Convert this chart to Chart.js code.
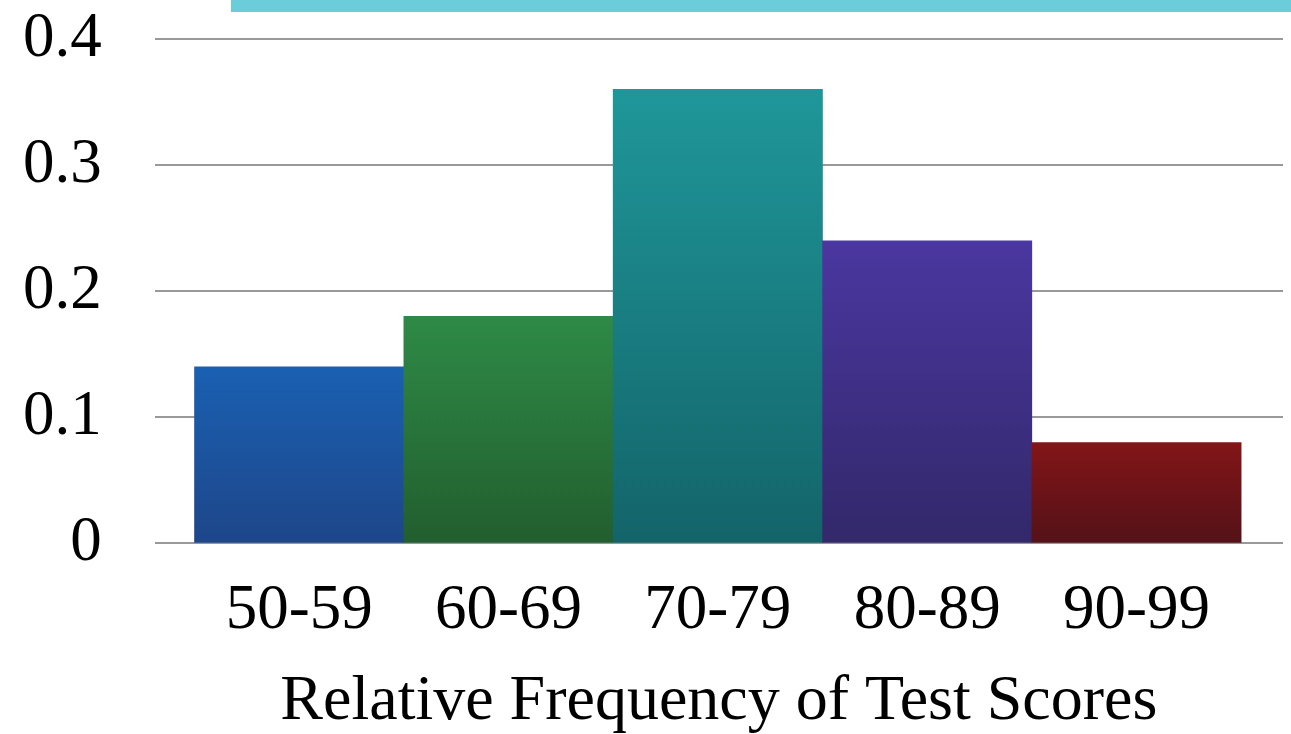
<!DOCTYPE html>
<html>
<head>
<meta charset="utf-8">
<script src="https://cdn.jsdelivr.net/npm/chart.js@4.4.1/dist/chart.umd.min.js"></script>
<style>
  html, body { margin: 0; padding: 0; background: #ffffff; overflow: hidden; }
  #wrap { position: relative; width: 1291px; height: 734px; }
  #accent { position: absolute; left: 231px; top: 0; width: 1060px; height: 12px; background: #6ccdda; }
  #chart { position: absolute; left: 0; top: 0; }
</style>
</head>
<body>
<div id="wrap">
  <canvas id="chart" width="1291" height="734"></canvas>
  <div id="accent"></div>
</div>
<script>
// Score ranges and their relative frequencies
const scoreRanges = ['50-59', '60-69', '70-79', '80-89', '90-99'];
const frequencies = [0.14, 0.18, 0.36, 0.24, 0.08];
const yTicks = [0, 0.1, 0.2, 0.3, 0.4];

// Bar shading, top and bottom of each gradient
const topColors = ['#1a60b2', '#2e8a46', '#1f979a', '#4b37a0', '#831518'];
const bottomColors = ['#1e4689', '#225e2f', '#136469', '#32286a', '#531218'];

const serif = "'Liberation Serif', 'Times New Roman', serif";

/**
 * Vertical gradient running from the bar's top down to the baseline
 */
function barFill(context) {
  const i = context.dataIndex;
  const chart = context.chart;
  const { ctx, chartArea, scales } = chart;
  if (!chartArea || !scales.y) return topColors[i];

  const yTop = scales.y.getPixelForValue(frequencies[i]);
  const yBase = scales.y.getPixelForValue(0);
  const g = ctx.createLinearGradient(0, yTop, 0, yBase);
  g.addColorStop(0, topColors[i]);
  g.addColorStop(1, bottomColors[i]);
  return g;
}

const ctx = document.getElementById('chart').getContext('2d');

new Chart(ctx, {
  type: 'bar',
  data: {
    datasets: [{
      label: 'Relative Frequency',
      data: frequencies.map((v, i) => ({ x: i, y: v })),
      backgroundColor: barFill,
      borderWidth: 0,
      barPercentage: 1,
      categoryPercentage: 1
    }]
  },
  options: {
    responsive: false,
    animation: false,
    layout: {
      padding: { left: 23, right: 8, top: 39, bottom: 0 }
    },
    plugins: {
      legend: { display: false },
      tooltip: { enabled: false }
    },
    scales: {
      x: {
        type: 'linear',
        offset: false,
        min: -0.69,
        max: 4.70,
        // tick marks hidden, tickLength only spaces the labels off the baseline
        grid: { display: false, drawTicks: true, tickLength: 30 },
        border: { display: false },
        afterBuildTicks: (scale) => {
          scale.ticks = scoreRanges.map((_, i) => ({ value: i }));
        },
        ticks: {
          color: '#000000',
          padding: 0,
          maxRotation: 0,
          autoSkip: false,
          font: { family: serif, size: 63, lineHeight: 1.2 },
          callback: (value) => scoreRanges[value]
        },
        title: {
          display: true,
          text: 'Relative Frequency of Test Scores',
          color: '#000000',
          padding: { top: 21, bottom: 0 },
          font: { family: serif, size: 64, lineHeight: 1 }
        }
      },
      y: {
        min: 0,
        max: 0.4,
        grid: {
          color: '#999999',
          lineWidth: 2,
          drawTicks: true,
          tickLength: 53,
          tickColor: 'rgba(0,0,0,0)'
        },
        border: { display: false },
        afterBuildTicks: (scale) => {
          scale.ticks = yTicks.map(v => ({ value: v }));
        },
        ticks: {
          color: '#000000',
          padding: 0,
          font: { family: serif, size: 63, lineHeight: 1.2 },
          callback: (value) => (value === 0 ? '0' : value.toFixed(1))
        }
      }
    }
  }
});
</script>
</body>
</html>
